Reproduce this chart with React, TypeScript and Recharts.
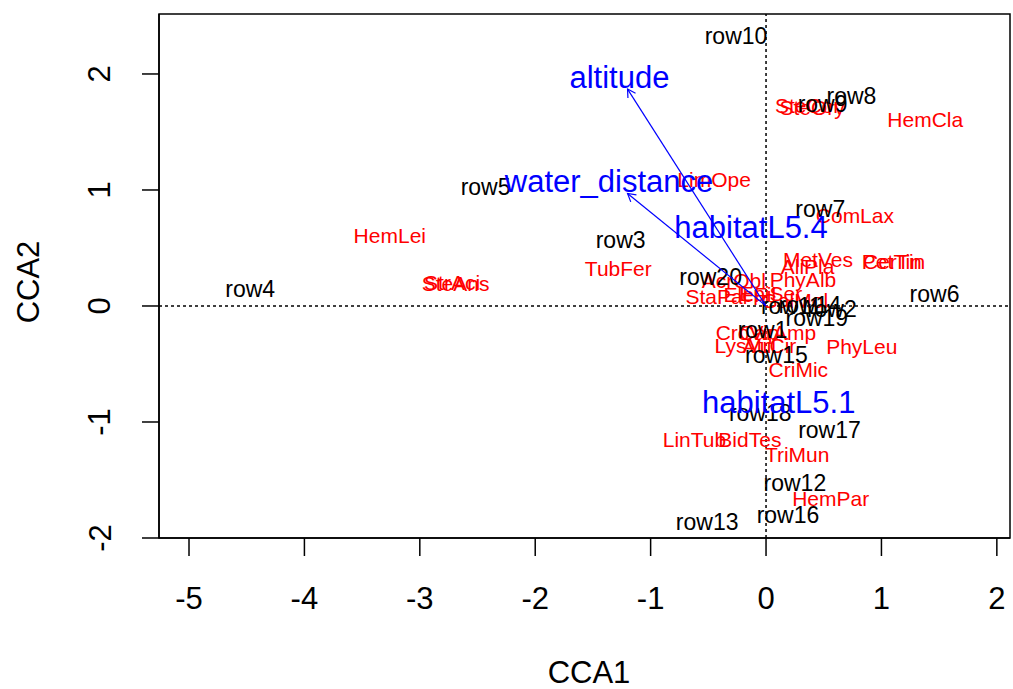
import React from "react";
import {
  ScatterChart,
  Scatter,
  XAxis,
  YAxis,
  ReferenceLine,
  ReferenceArea,
} from "recharts";

// site scores (black)
const siteNames = [
  "row1", "row2", "row3", "row4", "row5", "row6", "row7", "row8", "row9", "row10",
  "row11", "row12", "row13", "row14", "row15", "row16", "row17", "row18", "row19", "row20",
];
const siteX = [-0.03, 0.57, -1.26, -4.47, -2.43, 1.46, 0.47, 0.74, 0.49, -0.26, 0.22, 0.25, -0.51, 0.38, 0.09, 0.19, 0.55, -0.05, 0.44, -0.48];
const siteY = [-0.21, -0.03, 0.57, 0.15, 1.03, 0.1, 0.84, 1.81, 1.74, 2.33, 0.0, -1.53, -1.86, 0.01, -0.42, -1.8, -1.07, -0.92, -0.1, 0.25];

// species scores (red)
const speciesNames = [
  "HemCla", "SteCor", "SteOry", "LimOpe", "ComLax", "HemLei", "StrAci", "SteAns", "TubFer", "MetVes",
  "PetTin", "CerTin", "AliPla", "PhyAlb", "AcrObl", "StaPal", "EleFil", "EpiSer", "GalMol", "CroVip",
  "CarAmp", "LysVul", "AtrCir", "PhyLeu", "CriMic", "LinTub", "BidTes", "TriMun", "HemPar",
];
const speciesX = [1.38, 0.36, 0.4, -0.45, 0.77, -3.26, -2.72, -2.69, -1.28, 0.45, 1.09, 1.11, 0.36, 0.32, -0.28, -0.43, -0.14, 0.04, 0.25, -0.16, 0.1, -0.18, 0.03, 0.83, 0.28, -0.62, -0.14, 0.27, 0.56];
const speciesY = [1.61, 1.73, 1.71, 1.09, 0.78, 0.61, 0.2, 0.19, 0.32, 0.4, 0.38, 0.38, 0.34, 0.23, 0.22, 0.08, 0.1, 0.11, 0.05, -0.23, -0.23, -0.34, -0.34, -0.35, -0.55, -1.15, -1.15, -1.28, -1.66];

// biplot arrows (blue)
const envNames = ["altitude", "water_distance"];
const envX = [-1.2, -1.2];
const envY = [1.87, 0.97];
const envLabelX = [-1.27, -1.36];
const envLabelY = [1.97, 1.07];

// factor centroids (blue)
const centroidNames = ["habitatL5.4", "habitatL5.1"];
const centroidX = [-0.13, 0.11];
const centroidY = [0.68, -0.83];

const xTicks = [-5, -4, -3, -2, -1, 0, 1, 2];
const yTicks = [-2, -1, 0, 1, 2];

const XMIN = -5.26;
const XMAX = 2.114;
const YMIN = -2.0;
const YMAX = 2.517;

const PLOT_LEFT = 159;
const PLOT_TOP = 14;
const PLOT_W = 851;
const PLOT_H = 524;
const KX = PLOT_W / (XMAX - XMIN);
const KY = PLOT_H / (YMAX - YMIN);

const FONT = "'Liberation Sans', Arial, sans-serif";

const sites = siteNames.map((name, i) => ({ name, x: siteX[i], y: siteY[i] }));
const species = speciesNames.map((name, i) => ({ name, x: speciesX[i], y: speciesY[i] }));
const envTips = envNames.map((name, i) => ({ name, x: envX[i], y: envY[i] }));
const envLabels = envNames.map((name, i) => ({ name, x: envLabelX[i], y: envLabelY[i] }));
const centroids = centroidNames.map((name, i) => ({ name, x: centroidX[i], y: centroidY[i] }));

const makeLabel = (color: string, size: number) => (props: any) => {
  const { cx, cy, payload } = props;
  return (
    <text
      x={cx}
      y={cy}
      fill={color}
      fontSize={size}
      fontFamily={FONT}
      textAnchor="middle"
      dominantBaseline="central"
    >
      {payload.name}
    </text>
  );
};

const Arrow = (props: any) => {
  const { cx, cy, payload } = props;
  const ox = cx - payload.x * KX;
  const oy = cy + payload.y * KY;
  const ang = Math.atan2(cy - oy, cx - ox);
  const len = 9;
  const a1 = ang + Math.PI - Math.PI / 6;
  const a2 = ang + Math.PI + Math.PI / 6;
  return (
    <g stroke="#0000FF" strokeWidth={1.2} fill="none">
      <line x1={ox} y1={oy} x2={cx} y2={cy} />
      <polyline
        points={`${cx + len * Math.cos(a1)},${cy + len * Math.sin(a1)} ${cx},${cy} ${cx + len * Math.cos(a2)},${cy + len * Math.sin(a2)}`}
      />
    </g>
  );
};

const XTick = (props: any) => {
  const { x, payload } = props;
  return (
    <text x={x} y={598} fontSize={31} fontFamily={FONT} fill="#000" textAnchor="middle" dominantBaseline="central">
      {payload.value}
    </text>
  );
};

const YTick = (props: any) => {
  const { y, payload } = props;
  return (
    <text
      x={100}
      y={y}
      transform={`rotate(-90, 100, ${y})`}
      fontSize={31}
      fontFamily={FONT}
      fill="#000"
      textAnchor="middle"
      dominantBaseline="central"
    >
      {payload.value}
    </text>
  );
};

export default function App() {
  return (
    <div style={{ position: "absolute", left: 0, top: 0, width: 1013, height: 689, background: "#fff" }}>
      <ScatterChart
        width={1013}
        height={689}
        margin={{ top: PLOT_TOP, right: 1013 - PLOT_LEFT - PLOT_W, bottom: 689 - PLOT_TOP - PLOT_H - 100, left: PLOT_LEFT - 100 }}
      >
        <XAxis
          type="number"
          dataKey="x"
          domain={[XMIN, XMAX]}
          allowDataOverflow
          ticks={xTicks}
          height={100}
          tickSize={18}
          tick={<XTick />}
          tickLine={{ stroke: "#000", strokeWidth: 1.5 }}
          axisLine={{ stroke: "#000", strokeWidth: 1.5 }}
          label={() => (
            <text x={589} y={672} fontSize={31} fontFamily={FONT} fill="#000" textAnchor="middle" dominantBaseline="central">
              CCA1
            </text>
          )}
        />
        <YAxis
          type="number"
          dataKey="y"
          domain={[YMIN, YMAX]}
          allowDataOverflow
          ticks={yTicks}
          width={100}
          tickSize={17}
          tick={<YTick />}
          tickLine={{ stroke: "#000", strokeWidth: 1.5 }}
          axisLine={{ stroke: "#000", strokeWidth: 1.5 }}
          label={() => (
            <text
              x={28}
              y={282}
              transform="rotate(-90, 28, 282)"
              fontSize={31}
              fontFamily={FONT}
              fill="#000"
              textAnchor="middle"
              dominantBaseline="central"
            >
              CCA2
            </text>
          )}
        />
        <ReferenceArea
          x1={XMIN}
          x2={XMAX}
          y1={YMIN}
          y2={YMAX}
          ifOverflow="visible"
          fill="none"
          fillOpacity={0}
          stroke="#000"
          strokeWidth={1.5}
        />
        <ReferenceLine x={0} stroke="#000" strokeWidth={1.5} strokeDasharray="3 3" />
        <ReferenceLine y={0} stroke="#000" strokeWidth={1.5} strokeDasharray="3 3" />
        <Scatter data={species} shape={makeLabel("#FF0000", 21)} isAnimationActive={false} />
        <Scatter data={sites} shape={makeLabel("#000000", 23)} isAnimationActive={false} />
        <Scatter data={envTips} shape={<Arrow />} isAnimationActive={false} />
        <Scatter data={envLabels} shape={makeLabel("#0000FF", 31)} isAnimationActive={false} />
        <Scatter data={centroids} shape={makeLabel("#0000FF", 31)} isAnimationActive={false} />
      </ScatterChart>
    </div>
  );
}
